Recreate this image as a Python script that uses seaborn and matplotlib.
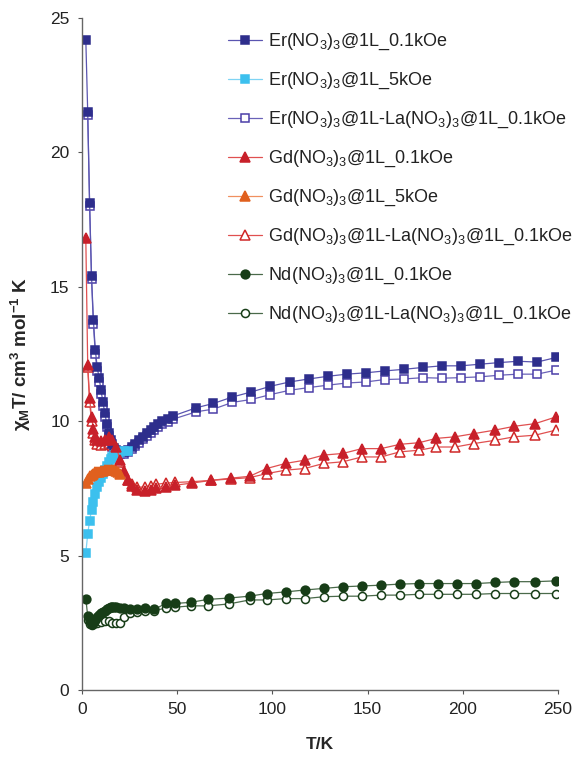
import numpy as np
import pandas as pd
import matplotlib
matplotlib.use("Agg")
import matplotlib.pyplot as plt
import seaborn as sns

# ---- data (T in K, chi_M*T in cm3 mol-1 K) ----
er_T = [2, 3, 4, 5, 6, 7, 8, 9, 10, 11, 12, 13, 14, 15, 16, 17, 18, 19, 20, 22, 24, 26, 28, 30,
        32, 34, 36, 38, 40, 42, 45, 48, 60, 69, 79, 89, 99, 109, 119, 129, 139, 149, 159, 169,
        179, 189, 199, 209, 219, 229, 239, 249]
er_01 = [24.2, 21.5, 18.1, 15.4, 13.75, 12.65, 12.0, 11.6, 11.15, 10.7, 10.3, 9.9, 9.55, 9.3,
         9.15, 9.0, 8.93, 8.88, 8.85, 8.85, 8.92, 9.03, 9.16, 9.3, 9.42, 9.55, 9.67, 9.8, 9.9,
         10.0, 10.1, 10.2, 10.5, 10.66, 10.9, 11.09, 11.3, 11.46, 11.57, 11.67, 11.75, 11.8,
         11.87, 11.93, 12.0, 12.06, 12.06, 12.12, 12.18, 12.23, 12.2, 12.37]

erla_T = er_T[1:]
erla_01 = [21.4, 18.0, 15.3, 13.6, 12.5, 11.85, 11.45, 11.0, 10.55, 10.15, 9.8, 9.45, 9.2, 9.05,
           8.92, 8.85, 8.8, 8.78, 8.78, 8.85, 8.95, 9.08, 9.2, 9.33, 9.45, 9.57, 9.68, 9.78,
           9.88, 9.98, 10.08, 10.35, 10.45, 10.7, 10.81, 10.99, 11.15, 11.25, 11.34, 11.42,
           11.46, 11.55, 11.57, 11.62, 11.6, 11.62, 11.65, 11.71, 11.75, 11.75, 11.9]

er5_T = [2, 3, 4, 5, 6, 7, 8, 9, 10, 11, 12, 13, 14, 15, 16, 17, 18, 19, 20, 22, 24]
er_5 = [5.1, 5.8, 6.3, 6.7, 7.0, 7.3, 7.55, 7.75, 7.9, 8.05, 8.2, 8.35, 8.47, 8.58, 8.67, 8.73,
        8.78, 8.82, 8.85, 8.88, 8.9]

gd_T = [2, 3, 4, 5, 6, 7, 8, 10, 12, 14, 16, 18, 20, 22, 24, 26, 29, 33, 36, 39, 44, 49, 58,
        68, 78, 88, 97, 107, 117, 127, 137, 147, 157, 167, 177, 186, 196, 206, 217, 227, 238, 249]
gd_01 = [16.8, 12.1, 10.85, 10.15, 9.7, 9.4, 9.3, 9.25, 9.3, 9.42, 9.3, 9.05, 8.55, 8.15, 7.8,
         7.6, 7.45, 7.4, 7.45, 7.5, 7.56, 7.62, 7.7, 7.8, 7.88, 7.95, 8.24, 8.43, 8.55, 8.74,
         8.8, 8.98, 8.98, 9.14, 9.2, 9.36, 9.42, 9.54, 9.67, 9.81, 9.91, 10.16]

gdla_T = gd_T[1:]
gdla_01 = [12.0, 10.7, 10.0, 9.55, 9.3, 9.15, 9.1, 9.15, 9.2, 9.1, 8.9, 8.5, 8.1, 7.8, 7.65,
           7.55, 7.55, 7.6, 7.65, 7.7, 7.72, 7.75, 7.8, 7.85, 7.9, 8.05, 8.18, 8.24, 8.43, 8.49,
           8.67, 8.67, 8.86, 8.92, 9.04, 9.04, 9.17, 9.29, 9.42, 9.48, 9.67]

gd5_T = [2, 3, 4, 5, 6, 7, 8, 9, 10, 11, 12, 13, 14, 15, 16, 17, 18, 19, 20]
gd_5 = [7.7, 7.85, 7.95, 8.0, 8.05, 8.1, 8.1, 8.12, 8.15, 8.15, 8.17, 8.18, 8.2, 8.2, 8.2,
        8.18, 8.15, 8.1, 8.05]

nd_T = [2, 3, 4, 5, 6, 7, 8, 9, 10, 11, 12, 13, 14, 15, 16, 17, 18, 20, 22, 25, 29, 33, 38, 44,
        49, 57, 66, 77, 88, 97, 107, 117, 127, 137, 147, 157, 167, 177, 187, 197, 207, 217,
        227, 238, 249]
nd_01 = [3.4, 2.75, 2.55, 2.45, 2.5, 2.6, 2.7, 2.78, 2.85, 2.9, 2.95, 3.0, 3.05, 3.08, 3.1,
         3.08, 3.07, 3.05, 3.04, 3.0, 3.0, 3.04, 3.0, 3.22, 3.22, 3.26, 3.37, 3.42, 3.49, 3.59,
         3.65, 3.72, 3.78, 3.84, 3.87, 3.9, 3.94, 3.96, 3.96, 3.96, 3.96, 4.0, 4.03, 4.03, 4.06]

ndla_T = [3, 4, 5, 6, 7, 8, 10, 12, 14, 16, 18, 20, 22, 25, 29, 33, 38, 44, 49, 57, 66, 77, 88,
          97, 107, 117, 127, 137, 147, 157, 167, 177, 187, 197, 207, 217, 227, 238, 249]
ndla_01 = [2.6, 2.45, 2.4, 2.45, 2.48, 2.5, 2.52, 2.55, 2.55, 2.5, 2.48, 2.5, 2.72, 2.85, 2.92,
           2.95, 2.95, 3.05, 3.08, 3.13, 3.13, 3.2, 3.35, 3.35, 3.4, 3.4, 3.47, 3.49, 3.49,
           3.53, 3.53, 3.56, 3.56, 3.56, 3.56, 3.59, 3.59, 3.59, 3.59]

labels = [
    r'Er(NO$_3$)$_3$@1L_0.1kOe',
    r'Er(NO$_3$)$_3$@1L_5kOe',
    r'Er(NO$_3$)$_3$@1L-La(NO$_3$)$_3$@1L_0.1kOe',
    r'Gd(NO$_3$)$_3$@1L_0.1kOe',
    r'Gd(NO$_3$)$_3$@1L_5kOe',
    r'Gd(NO$_3$)$_3$@1L-La(NO$_3$)$_3$@1L_0.1kOe',
    r'Nd(NO$_3$)$_3$@1L_0.1kOe',
    r'Nd(NO$_3$)$_3$@1L-La(NO$_3$)$_3$@1L_0.1kOe',
]


def style_of(i):
    # (marker, edge color, face color, line color, marker size)
    styles = [
        ('s', '#2e2e8c', '#2e2e8c', '#5a55b0', 6.3),
        ('s', '#3cc0ee', '#3cc0ee', '#7fd4f4', 6.3),
        ('s', '#4b3fa8', 'white', '#6a62b8', 6.3),
        ('^', '#c8202a', '#c8202a', '#e05050', 7.3),
        ('^', '#e0601e', '#e0601e', '#f09060', 7.3),
        ('^', '#d02828', 'white', '#e05050', 7.3),
        ('o', '#173d17', '#173d17', '#4a6a4a', 6.3),
        ('o', '#173d17', 'white', '#4a6a4a', 5.8),
    ]
    return styles[i]


def main():
    sns.set_theme(style='ticks')
    plt.rcParams['font.family'] = ['Liberation Sans', 'DejaVu Sans']
    plt.rcParams['mathtext.fontset'] = 'custom'
    plt.rcParams['mathtext.rm'] = 'Liberation Sans'
    plt.rcParams['mathtext.it'] = 'Liberation Sans:italic'
    plt.rcParams['mathtext.bf'] = 'Liberation Sans:bold'

    series = [(er_T, er_01), (er5_T, er_5), (erla_T, erla_01),
              (gd_T, gd_01), (gd5_T, gd_5), (gdla_T, gdla_01),
              (nd_T, nd_01), (ndla_T, ndla_01)]

    fig = plt.figure(figsize=(5.81, 7.59), dpi=100)
    ax = fig.add_axes([82 / 581, 69 / 759, 476 / 581, 672 / 759])

    # open-marker series first so the filled ones sit on top
    draw_order = [2, 5, 7, 0, 1, 3, 4, 6]
    handles = {}
    for i in draw_order:
        T, v = series[i]
        df = pd.DataFrame({'T': T, 'chiT': v})
        mk, ec, fc, lc, ms = style_of(i)
        sns.lineplot(data=df, x='T', y='chiT', ax=ax, color=lc, linewidth=0.9,
                     marker=mk, markersize=ms, markeredgecolor=ec, markerfacecolor=fc,
                     markeredgewidth=1.1, label=labels[i], sort=False, estimator=None)
        handles[i] = ax.get_lines()[-1]

    ax.set_xlim(0, 250)
    ax.set_ylim(0, 25)
    ax.set_xticks([0, 50, 100, 150, 200, 250])
    ax.set_yticks([0, 5, 10, 15, 20, 25])
    ax.tick_params(axis='both', labelsize=12.5, length=3, width=0.8, colors='#555555',
                   labelcolor='#222222', pad=6)
    for side in ['top', 'right']:
        ax.spines[side].set_visible(False)
    for side in ['left', 'bottom']:
        ax.spines[side].set_color('#666666')
        ax.spines[side].set_linewidth(1.0)

    ax.set_xlabel('T/K', fontsize=12.5, fontweight='bold', labelpad=14)
    ax.set_ylabel(r'$\mathbf{\chi_M}$T/ cm$^\mathbf{3}$ mol$^\mathbf{-1}$ K',
                  fontsize=13.5, fontweight='bold', labelpad=12)

    leg = ax.legend([handles[i] for i in range(8)], labels, loc='upper left',
                    bbox_to_anchor=(0.307, 0.979), frameon=False, fontsize=13,
                    labelspacing=1.03, handlelength=1.9, handletextpad=0.33,
                    borderaxespad=0.0, borderpad=0.0)
    for t in leg.get_texts():
        t.set_color('#222222')

    fig.savefig('out.png', dpi=100)


if __name__ == "__main__":
    main()
